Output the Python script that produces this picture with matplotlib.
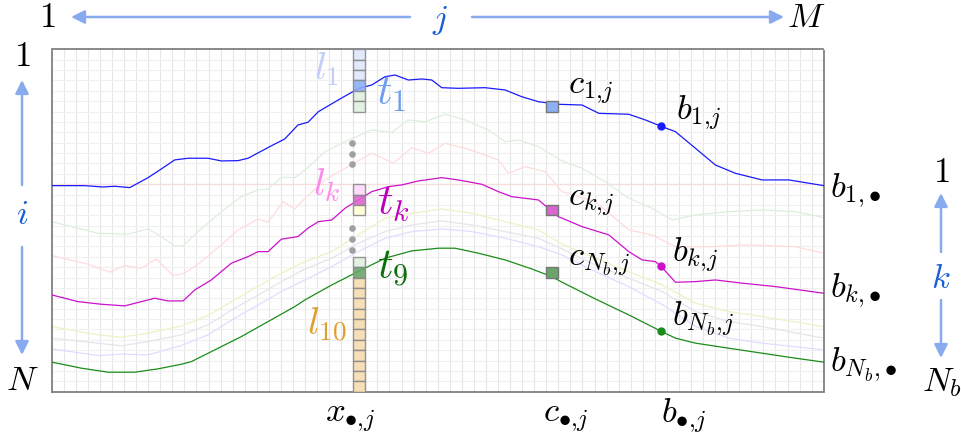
import numpy as np
import matplotlib.pyplot as plt
from matplotlib.patches import Rectangle

plt.rcParams['mathtext.fontset'] = 'cm'
plt.rcParams['font.family'] = ['DejaVu Serif']

# grid size: M columns (j), N rows (i)
M = 64
N = 33

# boundary b_1 (blue)
b1_j = [0, 2.74, 4.25, 5.22, 6.47, 7.99, 9.09, 10.20, 11.30, 12.96, 14.06, 15.45, 16.28, 18.08,
        19.32, 20.42, 21.25, 22.11, 23.76, 25.42, 26.53, 27.64, 28.47, 29.57, 30.68, 31.51, 32.34,
        33.71, 35.93, 37.59, 38.97, 40.35, 42.01, 43.97, 45.36, 47.84, 49.22, 50.61, 51.71, 53.37,
        55.02, 56.68, 58.89, 61.11, 64]
b1_i = [13.14, 13.14, 13.27, 13.20, 13.33, 12.37, 11.53, 10.66, 10.50, 10.50, 10.76, 10.73, 10.50, 9.38,
        8.64, 7.29, 7.03, 6.01, 4.88, 3.78, 3.44, 2.64, 2.48, 2.96, 2.86, 2.96, 3.70,
        3.76, 3.70, 3.92, 4.57, 5.05, 5.30, 5.37, 6.17, 6.26, 6.81, 7.46, 7.94, 9.54,
        11.15, 11.95, 12.59, 12.59, 13.14]

# boundary b_2 (faint green)
b2_j = [0, 3.84, 6.33, 7.99, 9.09, 10.20, 10.89, 12.13, 14.06, 15.72, 17.11, 17.94, 19.04, 20.15,
        21.00, 22.66, 24.32, 26.53, 28.19, 29.57, 30.95, 32.61, 34.27, 36.20, 37.59, 38.69, 40.35,
        42.31, 43.97, 45.90, 47.84, 49.78, 51.44, 53.37, 56.14, 58.90, 61.66, 64]
b2_i = [16.61, 17.73, 17.82, 17.31, 18.05, 18.95, 18.95, 17.57, 15.65, 14.20, 13.55, 13.46, 12.33, 12.37,
        11.63, 9.87, 8.90, 7.77, 8.00, 6.81, 6.98, 6.26, 6.81, 7.77, 8.90, 8.74, 9.38,
        10.76, 11.46, 12.76, 14.35, 15.32, 16.45, 15.96, 15.65, 15.48, 15.65, 16.22]

# boundary b_3 (faint red)
b3_j = [0, 3.01, 4.81, 6.05, 7.43, 8.67, 10.06, 11.03, 12.40, 14.06, 15.45, 17.11, 17.94, 19.18,
        20.15, 21.00, 22.66, 24.32, 26.53, 28.33, 29.85, 31.23, 32.61, 34.27, 35.93, 37.03, 37.86,
        39.25, 40.90, 42.31, 45.07, 47.84, 49.78, 51.71, 54.75, 57.51, 61.66, 64]
b3_i = [19.88, 20.71, 21.48, 20.85, 21.10, 20.20, 21.81, 21.58, 20.46, 18.85, 17.41, 16.35, 16.67, 14.68,
        15.39, 14.35, 12.59, 11.46, 10.02, 10.98, 9.48, 10.02, 9.06, 9.54, 10.18, 10.66, 11.95,
        11.31, 11.79, 13.72, 14.68, 17.41, 17.89, 19.02, 19.02, 18.85, 19.02, 19.65]

# boundary b_k (magenta)
bk_j = [0, 2.18, 4.11, 6.05, 7.43, 8.54, 9.64, 10.89, 11.86, 13.23, 14.89, 16.28, 17.11, 17.94,
        19.04, 20.42, 21.25, 22.11, 23.22, 24.32, 25.42, 26.53, 27.91, 29.02, 30.40, 32.34, 33.71,
        35.66, 37.03, 38.14, 40.35, 42.01, 43.97, 46.19, 47.84, 48.95, 50.05, 50.61, 51.71, 53.37,
        55.02, 57.24, 60.00, 64]
bk_i = [23.67, 24.32, 24.57, 24.73, 24.32, 23.99, 24.25, 24.25, 23.19, 22.23, 20.62, 19.98, 19.50, 19.50,
        18.30, 18.05, 17.24, 16.61, 16.45, 15.32, 14.52, 13.72, 13.24, 13.07, 12.69, 12.37, 12.59,
        13.01, 13.72, 14.20, 14.52, 16.13, 17.09, 17.89, 19.50, 20.30, 20.46, 21.04, 22.45, 22.39,
        22.23, 22.54, 22.87, 23.51]

# boundary b_5 (faint yellow)
b5_j = [0, 3.84, 5.77, 7.99, 10.75, 12.96, 15.17, 16.83, 19.04, 21.00, 23.22, 25.42, 27.64, 29.85,
        32.34, 34.83, 37.59, 40.35, 42.31, 45.07, 47.84, 50.61, 53.37, 56.14, 58.90, 64]
b5_i = [26.72, 27.52, 27.75, 27.36, 26.66, 25.66, 24.15, 23.03, 21.58, 20.46, 19.50, 17.89, 16.28, 15.80,
        15.39, 15.80, 16.61, 17.41, 18.79, 20.13, 21.43, 22.71, 24.47, 25.28, 25.76, 26.72]

# boundary b_6 (faint grey)
b6_j = [0, 3.84, 5.77, 7.99, 10.75, 12.96, 15.17, 17.38, 19.04, 21.00, 23.22, 25.42, 27.64, 29.85,
        32.34, 34.83, 37.59, 40.35, 42.31, 45.07, 47.84, 50.61, 53.37, 56.14, 58.90, 64]
b6_i = [27.84, 28.32, 28.58, 28.17, 27.52, 26.56, 24.95, 23.51, 22.39, 21.17, 20.13, 18.69, 17.57, 16.93,
        16.54, 16.93, 17.57, 18.21, 19.24, 20.78, 22.06, 23.35, 25.28, 26.24, 26.72, 27.84]

# boundary b_7 (faint blue)
b7_j = [0, 3.84, 5.77, 7.99, 10.75, 12.96, 15.17, 17.38, 19.04, 21.00, 23.22, 25.42, 27.64, 29.85,
        32.34, 34.83, 37.59, 40.35, 42.31, 45.07, 47.84, 50.61, 53.37, 56.14, 58.90, 64]
b7_i = [28.87, 29.52, 29.38, 29.45, 28.55, 27.52, 25.92, 24.47, 23.35, 22.23, 20.94, 19.50, 18.21, 17.57,
        17.31, 17.57, 18.21, 19.02, 19.82, 21.43, 22.87, 24.60, 26.70, 27.84, 28.32, 28.97]

# boundary b_Nb (green)
bn_j = [0, 2.45, 4.67, 6.88, 8.81, 10.75, 11.58, 13.52, 15.72, 17.94, 20.15, 21.00, 23.22, 25.42,
        27.64, 29.85, 32.06, 33.44, 35.37, 37.59, 39.80, 41.46, 42.31, 45.07, 47.84, 50.46, 51.71,
        53.37, 56.14, 58.90, 61.66, 64]
bn_i = [30.15, 30.73, 31.12, 31.12, 30.80, 30.35, 30.10, 28.97, 27.69, 26.24, 24.80, 24.15, 22.71, 21.41,
        20.13, 19.43, 19.17, 19.17, 19.65, 20.30, 21.17, 21.91, 22.45, 24.06, 25.60, 27.14, 27.84,
        28.32, 28.81, 29.29, 29.77, 30.15]

# flat reference row
ref_row = 13

# column x_{.,j}: layer cells
col_j = 25
cell_rows = [0, 1, 2, 3, 4, 5, 13, 14, 15, 20, 21] + list(range(22, 33))
cell_kind = ['l1', 'l1', 'l1', 't1', 'l2', 'l2', 'lk', 'tk', 'lk1', 'l9', 't9'] + ['l10'] * 11
dots_rows = [9.0, 10.05, 11.1, 17.2, 18.25, 19.3]

# c_{.,j} cells and b_{.,j} picks
c_col = 41
c_rows = [5, 15, 21]
b_col = 50.5

cell_colors = {'l1': '#e0e6fb', 't1': '#8cb0f5', 'l2': '#dff0df', 'lk': '#ffd9fb',
               'tk': '#d966d0', 'lk1': '#ffffd5', 'l9': '#dff0df', 't9': '#6aa56a',
               'l10': '#f5dcb0'}

fig = plt.figure(figsize=(9.62, 4.43), dpi=100)
ax = fig.add_axes([51.7 / 962, 1 - 391.7 / 443, 772 / 962, 342.4 / 443])
ax.set_xlim(0, M)
ax.set_ylim(N, 0)
ax.set_xticks([])
ax.set_yticks([])

# cell grid
for x in range(1, M):
    ax.axvline(x, color='#e6e6e6', lw=0.8, zorder=0)
for y in range(1, N):
    ax.axhline(y, color='#f0f0f0', lw=0.8, zorder=0)
for s in ax.spines.values():
    s.set_linestyle((0, (1, 1)))
    s.set_color('#808080')
    s.set_linewidth(1.3)

ax.axhline(ref_row, color='#f7dede', lw=0.9, zorder=1)

faint = [(b2_j, b2_i, '#dcefdc'), (b3_j, b3_i, '#ffdcdc'), (b5_j, b5_i, '#f0f0c6'),
         (b6_j, b6_i, '#e4e4ec'), (b7_j, b7_i, '#dedeff')]
for jj, ii, c in faint:
    ax.plot(jj, ii, color=c, lw=0.9, zorder=2)

main = [(b1_j, b1_i, '#1a1aff'), (bk_j, bk_i, '#cc11cc'), (bn_j, bn_i, '#1a8c1a')]
for jj, ii, c in main:
    ax.plot(jj, ii, color=c, lw=0.9, zorder=3)

for r, k in zip(cell_rows, cell_kind):
    ax.add_patch(Rectangle((col_j, r), 1, 1, facecolor=cell_colors[k], edgecolor='#8a8a8a',
                           lw=1.0, alpha=0.9, zorder=4))
ax.scatter([col_j - 0.12] * len(dots_rows), dots_rows, s=14, color='#a0a0a0', zorder=3)

for r, k in zip(c_rows, ['t1', 'tk', 't9']):
    ax.add_patch(Rectangle((c_col, r), 1, 1, facecolor=cell_colors[k], edgecolor='#777777',
                           lw=1.0, zorder=4))

for jj, ii, c in main:
    ax.plot(b_col, np.interp(b_col, jj, ii), 'o', color=c, ms=5, zorder=5)


def px(x, y):
    return x / 962, 1 - y / 443


fs = 25
txt = dict(ha='center', va='center')
# inside labels
fig.text(*px(326, 69), r'$l_1$', fontsize=28, color='#c2cdfb', **txt)
fig.text(*px(391, 93), r'$t_1$', fontsize=31, color='#6f9ef0', **txt)
fig.text(*px(327, 185), r'$l_k$', fontsize=28, color='#ff88ee', **txt)
fig.text(*px(393, 203), r'$t_k$', fontsize=31, color='#bb00bb', **txt)
fig.text(*px(393, 268), r'$t_9$', fontsize=31, color='#0a6e0a', **txt)
fig.text(*px(327, 325), r'$l_{10}$', fontsize=28, color='#e0a030', **txt)

fig.text(*px(568, 90), r'$c_{1{,}j}$', fontsize=fs, ha='left', va='center')
fig.text(*px(568, 202), r'$c_{k{,}j}$', fontsize=fs, ha='left', va='center')
fig.text(*px(568, 262), r'$c_{N_b{,}j}$', fontsize=fs, ha='left', va='center')
fig.text(*px(676, 113), r'$b_{1{,}j}$', fontsize=fs, ha='left', va='center')
fig.text(*px(672, 255), r'$b_{k{,}j}$', fontsize=fs, ha='left', va='center')
fig.text(*px(672, 319), r'$b_{N_b{,}j}$', fontsize=fs, ha='left', va='center')

# right-hand and bottom labels
fig.text(*px(830, 191), r'$b_{1{,}\bullet}$', fontsize=fs, ha='left', va='center')
fig.text(*px(830, 291), r'$b_{k{,}\bullet}$', fontsize=fs, ha='left', va='center')
fig.text(*px(830, 365), r'$b_{N_b{,}\bullet}$', fontsize=fs, ha='left', va='center')
fig.text(*px(350, 418), r'$x_{\bullet{,}j}$', fontsize=fs, **txt)
fig.text(*px(566, 418), r'$c_{\bullet{,}j}$', fontsize=fs, **txt)
fig.text(*px(684, 416), r'$b_{\bullet{,}j}$', fontsize=fs, **txt)

# index arrows
arrow_c = '#88aaee'
idx_c = '#1a5fd6'
ap = dict(arrowstyle='-|>', color=arrow_c, lw=1.8, mutation_scale=20, shrinkA=0, shrinkB=0)
fig.text(*px(47, 17), r'$1$', fontsize=fs, **txt)
fig.text(*px(440, 20), r'$j$', fontsize=fs, color=idx_c, **txt)
fig.text(*px(806, 17), r'$M$', fontsize=fs, **txt)
fig.add_artist(plt.Annotation('', xy=px(71, 17), xytext=px(410, 17), xycoords='figure fraction',
                              arrowprops=ap))
fig.add_artist(plt.Annotation('', xy=px(784, 17), xytext=px(472, 17), xycoords='figure fraction',
                              arrowprops=ap))

fig.text(*px(22, 56), r'$1$', fontsize=fs, **txt)
fig.text(*px(22, 214), r'$i$', fontsize=fs, color=idx_c, **txt)
fig.text(*px(22, 380), r'$N$', fontsize=fs, **txt)
fig.add_artist(plt.Annotation('', xy=px(22, 80), xytext=px(22, 185), xycoords='figure fraction',
                              arrowprops=ap))
fig.add_artist(plt.Annotation('', xy=px(22, 355), xytext=px(22, 247), xycoords='figure fraction',
                              arrowprops=ap))

fig.text(*px(941, 172), r'$1$', fontsize=fs, **txt)
fig.text(*px(941, 278), r'$k$', fontsize=fs, color=idx_c, **txt)
fig.text(*px(942, 382), r'$N_b$', fontsize=fs, **txt)
fig.add_artist(plt.Annotation('', xy=px(941, 193), xytext=px(941, 252), xycoords='figure fraction',
                              arrowprops=ap))
fig.add_artist(plt.Annotation('', xy=px(941, 358), xytext=px(941, 300), xycoords='figure fraction',
                              arrowprops=ap))

fig.savefig('out.png', dpi=100)
